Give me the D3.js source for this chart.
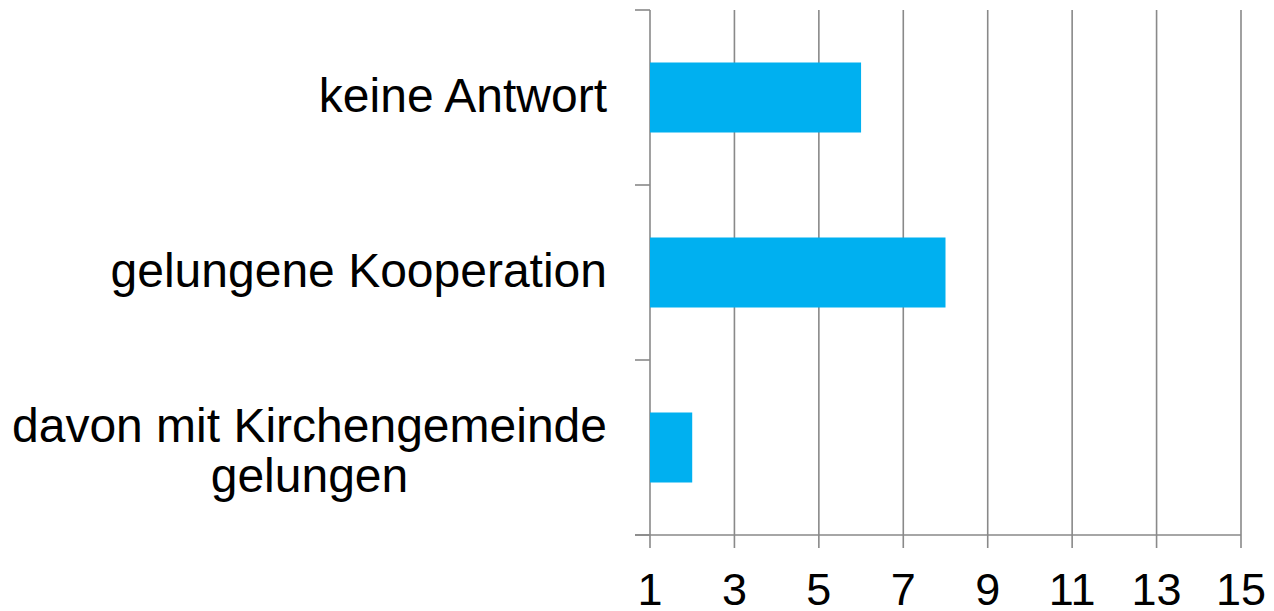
<!DOCTYPE html>
<html>
<head>
<meta charset="utf-8">
<script src="https://cdn.jsdelivr.net/npm/d3@7"></script>
<style>
  body { margin: 0; background: #fff; }
  svg { display: block; font-family: "Liberation Sans", Arial, sans-serif; }
</style>
</head>
<body>
<svg></svg>
<script>
// Data
const categories = [
    ["keine Antwort"],
    ["gelungene Kooperation"],
    ["davon mit Kirchengemeinde", "gelungen"]
]
const values = [6, 8, 2]
const tickValues = [1, 3, 5, 7, 9, 11, 13, 15]

// Layout (not named top/left: window.top is read-only)
var svgWidth = 1274, svgHeight = 611
var plotLeft = 650, plotRight = 1241, plotTop = 10, plotBottom = 535
var gridColor = "#898989", barColor = "#00B0F0"

var svg = d3.select("svg")
    .attr("width", svgWidth)
    .attr("height", svgHeight)

var x = d3.scaleLinear().domain([1, 15]).range([plotLeft, plotRight])
var y = d3.scaleBand()
    .domain(d3.range(categories.length))
    .range([plotTop, plotBottom])
    .paddingInner(0.6)
    .paddingOuter(0.3)

// vertical grid lines (with tick stubs below axis)
svg.append("g")
    .selectAll("line")
    .data(tickValues)
    .enter()
    .append("line")
    .attr("x1", d => x(d))
    .attr("x2", d => x(d))
    .attr("y1", plotTop)
    .attr("y2", plotBottom + 13)
    .attr("stroke", gridColor)
    .attr("stroke-width", 1.6)

// category separators on y axis
var sepYs = d3.range(categories.length + 1).map(i => plotTop + i * y.step())
svg.append("g")
    .selectAll("line")
    .data(sepYs)
    .enter()
    .append("line")
    .attr("x1", plotLeft - 15)
    .attr("x2", plotLeft)
    .attr("y1", d => d)
    .attr("y2", d => d)
    .attr("stroke", gridColor)
    .attr("stroke-width", 1.6)

// x axis line
svg.append("line")
    .attr("x1", plotLeft - 15)
    .attr("x2", plotRight)
    .attr("y1", plotBottom)
    .attr("y2", plotBottom)
    .attr("stroke", gridColor)
    .attr("stroke-width", 1.6)

// bars
svg.append("g")
    .selectAll("rect")
    .data(values)
    .enter()
    .append("rect")
    .attr("x", x(1))
    .attr("y", (d, i) => y(i))
    .attr("width", d => x(d) - x(1))
    .attr("height", y.bandwidth())
    .attr("fill", barColor)

// tick labels
svg.append("g")
    .selectAll("text")
    .data(tickValues)
    .enter()
    .append("text")
    .attr("x", d => x(d))
    .attr("y", 605)
    .attr("text-anchor", "middle")
    .attr("font-size", 45)
    .attr("fill", "#000")
    .text(d => d)

// category labels, multi-line ones centred on their widest line
var labelRight = 607, lineHeight = 50
categories.forEach((lines, i) => {
    var cy = y(i) + y.bandwidth() / 2
    var n = lines.length
    var g = svg.append("g")
    var texts = lines.map((line, j) => g.append("text")
        .attr("font-size", 48)
        .attr("fill", "#000")
        .attr("text-anchor", "middle")
        .attr("y", cy + 14.5 + (j - (n - 1) / 2) * lineHeight + (n - 1) * 5)
        .text(line))
    var maxW = d3.max(texts, t => t.node().getComputedTextLength())
    texts.forEach(t => t.attr("x", labelRight - maxW / 2))
})
</script>
</body>
</html>
